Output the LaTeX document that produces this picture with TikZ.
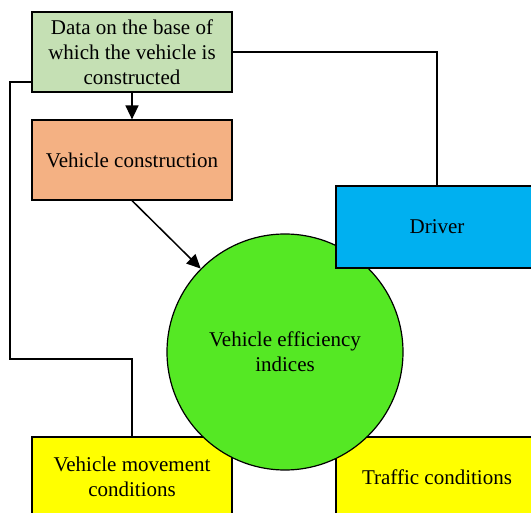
\documentclass[tikz,border=0pt]{standalone}
\usepackage{fontspec}
\setmainfont{Liberation Serif}
\usetikzlibrary{arrows.meta}
\definecolor{datagreen}{HTML}{C5E0B4}
\definecolor{constrorange}{HTML}{F4B183}
\definecolor{driverblue}{HTML}{00B0F0}
\definecolor{condyellow}{HTML}{FFFF00}
\definecolor{effgreen}{HTML}{55E824}
\tikzset{>={Triangle[length=14pt,width=13pt]},
  block/.style={draw, line width=1.2pt, minimum width=200pt, minimum height=80pt,
    align=center, font=\fontsize{21}{25}\selectfont},
  link/.style={line width=1.5pt}}

\begin{document}
\begin{tikzpicture}[x=1pt, y=-1pt]
    \useasboundingbox (0,0) rectangle (531,513);
    \node[block, fill=datagreen] (data) at (132,52) {Data on the base of\\which the vehicle is\\constructed};
    \node[block, fill=constrorange] (constr) at (132,160) {Vehicle construction};
    \node[block, fill=condyellow] (move) at (132,477) {Vehicle movement\\conditions};
    \node[block, fill=condyellow, minimum width=202pt] (traffic) at (437,477) {Traffic conditions};
    \node[circle, draw, line width=1.2pt, fill=effgreen, minimum size=236pt, align=center,
      font=\fontsize{21}{25}\selectfont] (eff) at (285,352) {Vehicle efficiency\\indices};
    \node[block, fill=driverblue, minimum width=202pt, minimum height=82pt] (driver) at (437,227) {Driver};
    \coordinate (lk1) at (10,82);
    \coordinate (lk2) at (10,359);
    \draw[link, ->] (data) -- (constr);
    \draw[link, ->] (constr.south) -- (eff);
    \draw[link] (data.east) -| (driver.north);
    \draw[link] ([yshift=-30pt]data.west) -- (lk1) -- (lk2) -| (move.north);
\end{tikzpicture}
\end{document}
